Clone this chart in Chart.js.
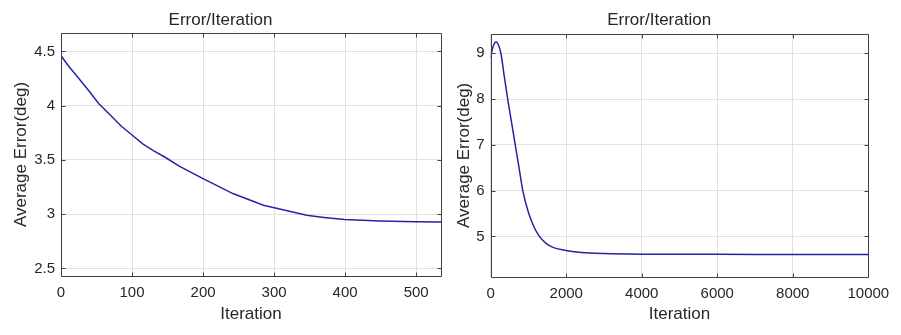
<!DOCTYPE html>
<html>
<head>
<meta charset="utf-8">
<script src="https://cdn.jsdelivr.net/npm/chart.js@4/dist/chart.umd.min.js"></script>
<style>
  html, body { margin: 0; padding: 0; background: #ffffff; }
  #wrap { position: relative; width: 901px; height: 335px; overflow: hidden; background: #ffffff; }
  canvas { position: absolute; top: 0; }
  #errShort { left: 0; }
  #errLong { left: 450px; }
</style>
</head>
<body>
<div id="wrap">
  <canvas id="errShort" width="450" height="335"></canvas>
  <canvas id="errLong" width="451" height="335"></canvas>
</div>
<script>
// Short run: average error per iteration (first ~535 iterations)
const shortIterations = [0, 10, 24, 40, 53, 70, 85, 100, 116, 130, 146, 167, 200, 242, 285, 320, 346, 370, 399, 449, 500, 535];
const shortErrors     = [4.46, 4.37, 4.26, 4.13, 4.02, 3.91, 3.81, 3.73, 3.644, 3.585, 3.527, 3.44, 3.328, 3.19, 3.082, 3.03, 2.99, 2.97, 2.95, 2.937, 2.93, 2.928];
const shortXTicks = [0, 100, 200, 300, 400, 500];
const shortYTicks = [2.5, 3, 3.5, 4, 4.5];

// Long run: average error per iteration (10000 iterations)
const longIterations = [0, 40, 90, 140, 200, 270, 355, 450, 550, 650, 750, 850, 1000, 1150, 1290, 1450, 1650, 1950, 2400, 3000, 4000, 6000, 8000, 10000];
const longErrors     = [8.90, 9.08, 9.20, 9.25, 9.19, 9.00, 8.52, 8.00, 7.50, 7.00, 6.50, 6.00, 5.52, 5.20, 5.00, 4.86, 4.76, 4.70, 4.65, 4.625, 4.612, 4.608, 4.604, 4.603];
const longXTicks = [0, 2000, 4000, 6000, 8000, 10000];
const longYTicks = [5, 6, 7, 8, 9];

const TEXT = '#262626';
const GRID = '#e1e1e1';
const FRAME = '#3f3f3f';
const LINE = '#2424a6';
const FAMILY = '"Liberation Sans", Arial, Helvetica, sans-serif';

// Draws the closed axes frame with inward tick marks on all four sides
const axesBox = {
  id: 'axesBox',
  afterDatasetsDraw(chart) {
    const { ctx, chartArea: a, scales } = chart;
    const al = v => Math.round(v) + 0.5;
    const L = al(a.left), R = al(a.right), T = al(a.top), B = al(a.bottom);
    const len = 4;
    ctx.save();
    ctx.strokeStyle = FRAME;
    ctx.lineWidth = 1;
    ctx.beginPath();
    ctx.rect(L, T, R - L, B - T);
    scales.x.ticks.forEach(t => {
      const px = al(scales.x.getPixelForValue(t.value));
      ctx.moveTo(px, B); ctx.lineTo(px, B - len);
      ctx.moveTo(px, T); ctx.lineTo(px, T + len);
    });
    scales.y.ticks.forEach(t => {
      const py = al(scales.y.getPixelForValue(t.value));
      ctx.moveTo(L, py); ctx.lineTo(L + len, py);
      ctx.moveTo(R, py); ctx.lineTo(R - len, py);
    });
    ctx.stroke();
    ctx.restore();
  }
};

function errorChart(id, iters, errs, xTicks, yTicks, g) {
  const points = iters.map((it, i) => ({ x: it, y: errs[i] }));
  return new Chart(document.getElementById(id), {
    type: 'line',
    data: {
      datasets: [{
        data: points,
        borderColor: LINE,
        borderWidth: 1.5,
        pointRadius: 0,
        fill: false,
        tension: g.smooth ? 0.4 : 0,
        cubicInterpolationMode: g.smooth ? 'monotone' : 'default'
      }]
    },
    options: {
      responsive: false,
      animation: false,
      events: [],
      layout: { padding: { left: 0, top: 0, bottom: 0, right: g.padRight } },
      plugins: {
        legend: { display: false },
        tooltip: { enabled: false },
        title: {
          display: true,
          text: 'Error/Iteration',
          color: TEXT,
          font: { family: FAMILY, size: 17, weight: 'normal' },
          padding: { top: 10.5, bottom: g.titleBottom }
        }
      },
      scales: {
        x: {
          type: 'linear',
          min: g.xMin, max: g.xMax,
          afterBuildTicks: s => { s.ticks = xTicks.map(v => ({ value: v })); },
          afterFit: s => { s.height = g.xHeight; },
          grid: { color: GRID, drawTicks: false },
          border: { display: false },
          ticks: {
            color: TEXT, padding: 8, maxRotation: 0,
            font: { family: FAMILY, size: 15 },
            callback: v => String(v)
          },
          title: {
            display: true, text: 'Iteration', color: TEXT,
            font: { family: FAMILY, size: 17 },
            padding: { top: 0, bottom: g.xTitleBottom }
          }
        },
        y: {
          type: 'linear',
          min: g.yMin, max: g.yMax,
          afterBuildTicks: s => { s.ticks = yTicks.map(v => ({ value: v })); },
          afterFit: s => { s.width = g.yWidth; },
          grid: { color: GRID, drawTicks: false },
          border: { display: false },
          ticks: {
            color: TEXT, padding: 6,
            font: { family: FAMILY, size: 15 },
            callback: v => String(v)
          },
          title: {
            display: true, text: 'Average Error(deg)', color: TEXT,
            font: { family: FAMILY, size: 17 },
            padding: { top: g.yTitleTop, bottom: 0 }
          }
        }
      }
    },
    plugins: [axesBox]
  });
}

errorChart('errShort', shortIterations, shortErrors, shortXTicks, shortYTicks, {
  xMin: 0, xMax: 535, yMin: 2.43, yMax: 4.67,
  yWidth: 61, xHeight: 59, padRight: 9,
  titleBottom: 2.1, yTitleTop: 11.5, xTitleBottom: 10.7, smooth: false
});

errorChart('errLong', longIterations, longErrors, longXTicks, longYTicks, {
  xMin: 0, xMax: 10000, yMin: 4.12, yMax: 9.42,
  yWidth: 40.7, xHeight: 58.3, padRight: 32.7,
  titleBottom: 3.1, yTitleTop: 3.8, xTitleBottom: 10, smooth: true
});
</script>
</body>
</html>
